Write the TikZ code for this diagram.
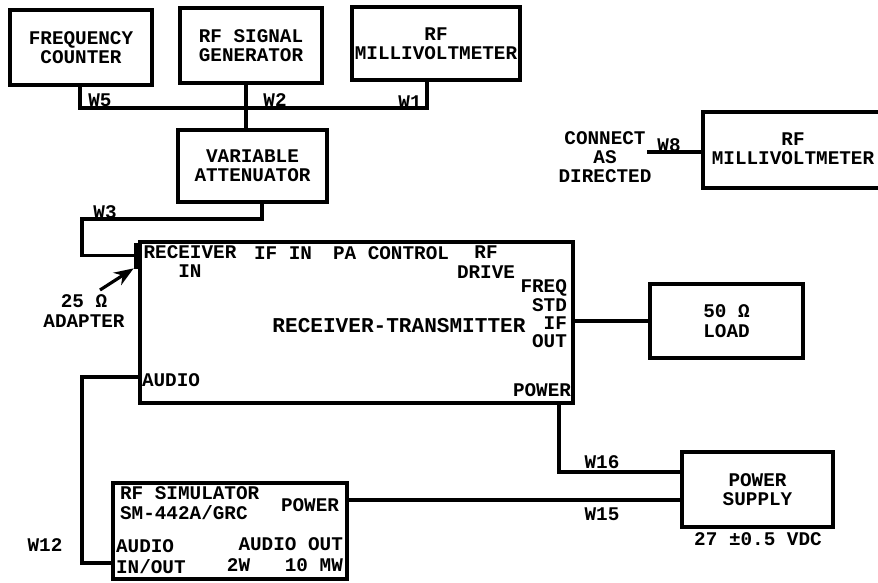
\documentclass[tikz,border=0pt]{standalone}
\usepackage{fontspec}
\setmonofont{Liberation Mono}
\usetikzlibrary{arrows.meta,positioning}

\begin{document}
\begin{tikzpicture}[x=0.02cm, y=-0.02cm, >=Stealth,
  every node/.style={font=\ttfamily\bfseries\fontsize{11}{11}\selectfont, inner sep=1pt},
  box/.style={draw, line width=1.8pt, align=center},
  wire/.style={line width=1.8pt},
  lbl/.style={align=center}]
  \clip (0,0) rectangle (878,582);
  % test equipment along the top
  \node[box,minimum width=2.84cm,minimum height=1.5cm] (fcount) at (81,47.5) {FREQUENCY\\COUNTER};
  \node[box,minimum width=2.84cm,minimum height=1.5cm] (siggen) at (251,45.5) {RF SIGNAL\\GENERATOR};
  \node[box,minimum width=3.36cm,minimum height=1.46cm] (mvtop) at (436,43.5) {RF\\MILLIVOLTMETER};
  \node[box,minimum width=2.98cm,minimum height=1.44cm] (atten) at (252.5,166) {VARIABLE\\ATTENUATOR};
  \node[box,minimum width=4.04cm,minimum height=1.52cm] (mvright) at (804,150) {};
  \node[lbl] (mvrtext) at (793,149) {RF\\MILLIVOLTMETER};
  % unit under test
  \node[box,minimum width=8.66cm,minimum height=3.22cm] (rt) at (356.5,322.5) {};
  \node[draw,fill=black,minimum width=0.14cm,minimum height=0.5cm,inner sep=0pt] (adp) at (137.5,255.5) {};
  \node[box,minimum width=3.06cm,minimum height=1.48cm] (load) at (726.5,321) {50 Ω\\LOAD};
  \node[box,minimum width=3.02cm,minimum height=1.5cm] (psu) at (757.5,489.5) {POWER\\SUPPLY};
  \node[box,minimum width=4.68cm,minimum height=1.92cm] (sim) at (230,531) {};
  % texts inside the receiver-transmitter
  \node[lbl] (rxin) at (190,261.5) {RECEIVER\\IN};
  \node[lbl] (ifin) at (283,253) {IF IN};
  \node[lbl] (pactl) at (391,253) {PA CONTROL};
  \node[lbl] (rfdrive) at (486,262) {RF\\DRIVE};
  \node[anchor=east,align=right,font=\ttfamily\bfseries\fontsize{11}{10.4}\selectfont] (freqstd) at (569,314) {FREQ\\STD\\IF\\OUT};
  \node[lbl,font=\ttfamily\bfseries\fontsize{12}{13}\selectfont] (rtname) at (399,326) {RECEIVER-TRANSMITTER};
  \node[lbl] (rtaudio) at (171,380) {AUDIO};
  \node[lbl] (rtpower) at (542,390) {POWER};
  % texts inside the simulator
  \node[anchor=west,align=left] (simname) at (118,503) {RF SIMULATOR\\SM-442A/GRC};
  \node[lbl] (simpower) at (310,505) {POWER};
  \node[anchor=west,align=left,font=\ttfamily\bfseries\fontsize{11}{12}\selectfont] (simaudio) at (114,557) {AUDIO\\IN/OUT};
  \node[anchor=east,align=right,font=\ttfamily\bfseries\fontsize{11}{12}\selectfont] (simout) at (345,555) {AUDIO OUT\\2W~~~10 MW};
  % other texts
  \node[lbl] (adplbl) at (84,311) {25 Ω\\ADAPTER};
  \node[lbl] (connect) at (605,157) {CONNECT\\AS\\DIRECTED};
  \node[lbl] (vdc) at (758,539) {27 ±0.5 VDC};
  % wiring
  \coordinate (w5x) at (80,108);
  \coordinate (w2x) at (246,108);
  \coordinate (w1x) at (427,108);
  \draw[wire] (fcount.south -| w5x) -- (w5x) -- (w1x) -- (mvtop.south -| w1x);
  \draw[wire] (siggen.south -| w2x) -- (atten.north -| w2x);
  \coordinate (w3a) at (262,219);
  \coordinate (w3b) at (82,219);
  \draw[wire] (atten.south -| w3a) -- (w3a) -- (w3b) |- (adp.west);
  \coordinate (adptail) at (100,290);
  \draw[->,line width=1.8pt] (adptail) -- (adp.south west);
  \coordinate (w8a) at (647,152);
  \draw[wire] (w8a) -- (mvright.west |- w8a);
  \draw[wire] (rt.east |- load.west) -- (load.west);
  \coordinate (w16a) at (559,472);
  \draw[wire] (rt.south -| w16a) -- (w16a) -- (w16a -| psu.west);
  \coordinate (w15a) at (500,500);
  \draw[wire] (sim.east |- w15a) -- (psu.west |- w15a);
  \coordinate (w12a) at (82,377);
  \coordinate (w12b) at (82,563);
  \draw[wire] (rt.west |- w12a) -- (w12a) -- (w12b) -- (sim.west |- w12b);
  % wire labels
  \node (w5) at (100,100) {W5};
  \node (w2) at (275,100) {W2};
  \node (w1) at (410,102) {W1};
  \node (w3) at (105,212) {W3};
  \node (w8) at (669,145) {W8};
  \node (w16) at (602,462) {W16};
  \node (w15) at (602,514) {W15};
  \node (w12) at (45,545) {W12};
\end{tikzpicture}
\end{document}
